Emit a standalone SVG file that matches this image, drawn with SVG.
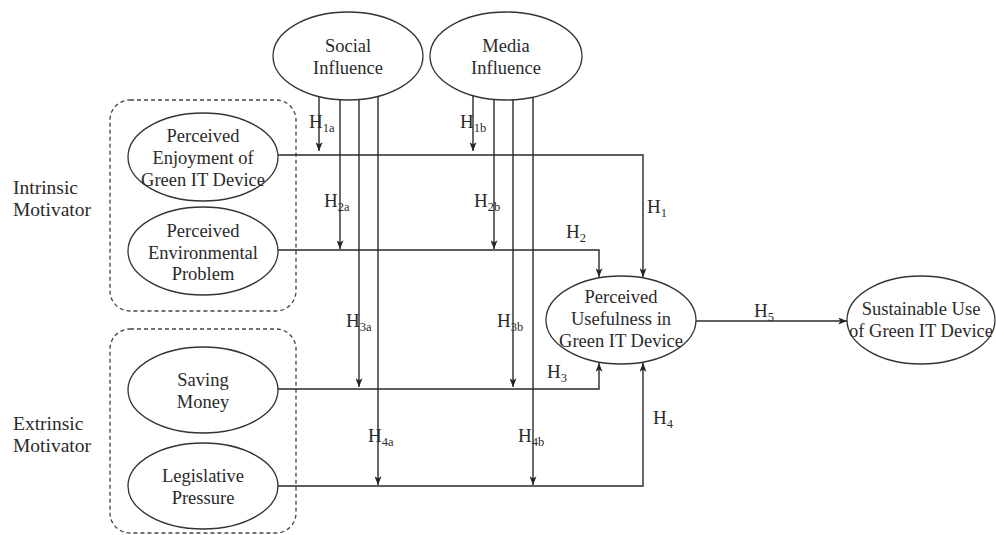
<svg xmlns="http://www.w3.org/2000/svg" width="996" height="535" viewBox="0 0 996 535">
<defs>
<marker id="arr" viewBox="0 0 10 8" refX="10" refY="4" markerWidth="9" markerHeight="7" markerUnits="userSpaceOnUse" orient="auto">
<path d="M0,0 L10,4 L0,8 L2.5,4 z" fill="#222"/>
</marker>
<style>
.c{fill:none;stroke:#2a2a2a;stroke-width:1.4}
.a{marker-end:url(#arr)}
.n ellipse{fill:#fff;stroke:#333;stroke-width:1.3}
.grp{fill:none;stroke:#444;stroke-width:1.3;stroke-dasharray:4 3}
text{font-family:'Liberation Serif','DejaVu Serif',serif;fill:#2a2a2a}
.t{font-size:18.5px;text-anchor:middle}
.lbl{font-size:19.5px}
.h{font-size:19px}
.s{font-size:12.5px}
</style>
</defs>
<rect width="996" height="535" fill="#fff"/>

<g id="groups">
<rect class="grp" x="110" y="100" width="186" height="211" rx="20"/>
<rect class="grp" x="110" y="329" width="186" height="204" rx="20"/>
<text class="lbl" x="13" y="194">Intrinsic</text>
<text class="lbl" x="13" y="216">Motivator</text>
<text class="lbl" x="13" y="430">Extrinsic</text>
<text class="lbl" x="13" y="452">Motivator</text>
</g>

<g id="connectors">
<path class="c a" d="M319,92 V151"/>
<path class="c a" d="M340,92 V249"/>
<path class="c a" d="M359,92 V387"/>
<path class="c a" d="M378,92 V485"/>
<path class="c a" d="M473,92 V151"/>
<path class="c a" d="M494,92 V249"/>
<path class="c a" d="M513,92 V387"/>
<path class="c a" d="M533,92 V485"/>
<path class="c a" d="M278,155 H643 V277"/>
<path class="c a" d="M278,250 H599 V277"/>
<path class="c a" d="M278,389 H599 V363"/>
<path class="c a" d="M278,486 H643 V363"/>
<path class="c a" d="M696,321 H847"/>
<text class="h" x="309" y="128">H<tspan class="s" dy="4">1a</tspan></text>
<text class="h" x="460" y="128">H<tspan class="s" dy="4">1b</tspan></text>
<text class="h" x="324" y="207">H<tspan class="s" dy="4">2a</tspan></text>
<text class="h" x="474" y="207">H<tspan class="s" dy="4">2b</tspan></text>
<text class="h" x="346" y="327">H<tspan class="s" dy="4">3a</tspan></text>
<text class="h" x="497" y="327">H<tspan class="s" dy="4">3b</tspan></text>
<text class="h" x="368" y="442">H<tspan class="s" dy="4">4a</tspan></text>
<text class="h" x="518" y="442">H<tspan class="s" dy="4">4b</tspan></text>
<text class="h" x="647" y="213">H<tspan class="s" dy="4">1</tspan></text>
<text class="h" x="566" y="238">H<tspan class="s" dy="4">2</tspan></text>
<text class="h" x="547" y="378">H<tspan class="s" dy="4">3</tspan></text>
<text class="h" x="653" y="424">H<tspan class="s" dy="4">4</tspan></text>
<text class="h" x="754" y="317">H<tspan class="s" dy="4">5</tspan></text>
</g>

<g id="social" class="n">
<ellipse cx="348" cy="56" rx="75" ry="44"/>
<text class="t" x="348" y="52">Social</text>
<text class="t" x="348" y="74">Influence</text>
</g>
<g id="media" class="n">
<ellipse cx="506" cy="56" rx="76" ry="44"/>
<text class="t" x="506" y="52">Media</text>
<text class="t" x="506" y="74">Influence</text>
</g>
<g id="enjoyment" class="n">
<ellipse cx="203" cy="157" rx="75" ry="44"/>
<text class="t" x="203" y="142">Perceived</text>
<text class="t" x="203" y="164">Enjoyment of</text>
<text class="t" x="203" y="186">Green IT Device</text>
</g>
<g id="environmental" class="n">
<ellipse cx="203" cy="251" rx="75" ry="44"/>
<text class="t" x="203" y="237">Perceived</text>
<text class="t" x="203" y="259">Environmental</text>
<text class="t" x="203" y="280">Problem</text>
</g>
<g id="saving" class="n">
<ellipse cx="203" cy="390" rx="75" ry="43"/>
<text class="t" x="203" y="386">Saving</text>
<text class="t" x="203" y="408">Money</text>
</g>
<g id="legislative" class="n">
<ellipse cx="203" cy="486" rx="75" ry="43"/>
<text class="t" x="203" y="482">Legislative</text>
<text class="t" x="203" y="504">Pressure</text>
</g>
<g id="usefulness" class="n">
<ellipse cx="621" cy="320" rx="75" ry="44"/>
<text class="t" x="621" y="303">Perceived</text>
<text class="t" x="621" y="325">Usefulness in</text>
<text class="t" x="621" y="347">Green IT Device</text>
</g>
<g id="sustainable" class="n">
<ellipse cx="921" cy="320" rx="74" ry="44"/>
<text class="t" x="921" y="315">Sustainable Use</text>
<text class="t" x="921" y="337">of Green IT Device</text>
</g>
</svg>
